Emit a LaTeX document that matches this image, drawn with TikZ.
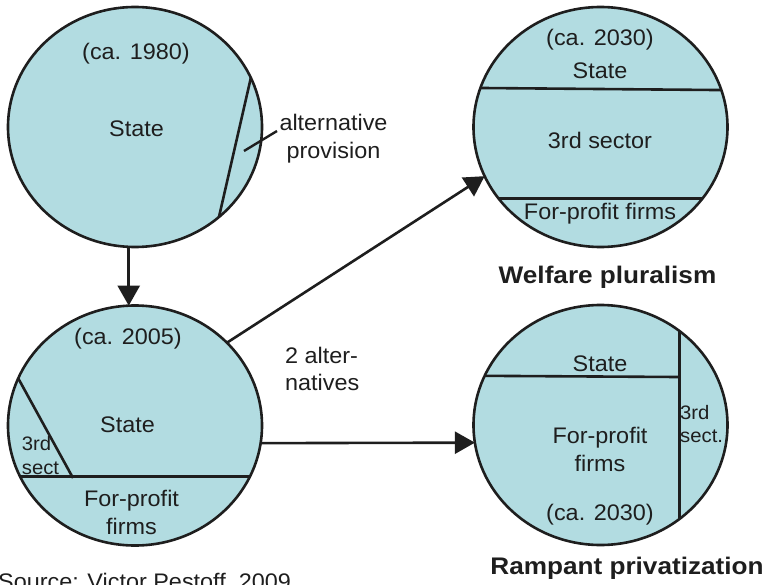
\documentclass[tikz,border=0pt]{standalone}
\usepackage{fontspec}
\setmainfont{Liberation Sans}[FakeStretch=1.04]
\newfontfamily\titlefont{Liberation Sans}[FakeStretch=1.09]
\usetikzlibrary{arrows.meta,shapes.geometric}
\definecolor{fillc}{RGB}{178,220,225}
\definecolor{ink}{RGB}{30,30,30}
\begin{document}
\begin{tikzpicture}[x=1pt,y=-1pt,
  sector/.style={ellipse, draw=ink, fill=fillc, line width=2.6pt, minimum width=254pt, minimum height=240pt, inner sep=0pt, outer sep=0pt},
  divider/.style={draw=ink, line width=2.6pt},
  leader/.style={draw=ink, line width=2.4pt},
  arr/.style={draw=ink, line width=2.6pt, -{Triangle[length=20pt,width=22pt]}},
  lbl/.style={font=\fontsize{22.5}{28}\selectfont, text=ink, inner sep=0pt, anchor=base, align=center},
  lblw/.style={font=\fontsize{22.5}{27.5}\selectfont, text=ink, inner sep=0pt, anchor=base west, align=left},
  small/.style={font=\fontsize{19.5}{23.6}\selectfont, text=ink, inner sep=0pt, anchor=base west, align=left},
  title/.style={font=\titlefont\bfseries\fontsize{24}{28}\selectfont, text=ink, inner sep=0pt, anchor=base}]
\useasboundingbox (0,0) rectangle (767,585);
\clip (0,0) rectangle (767,585);

% circles
\node[sector] (c1) at (135,127) {};
\node[sector] (c2) at (135,425.5) {};
\node[sector] (c3) at (600.5,127) {};
\node[sector] (c4) at (600.5,425) {};

% dividers
\draw[divider] (c1.23.5) -- (c1.-47.6);
\coordinate (c2k) at (73,478);
\draw[divider] (c2.204.9) -- (c2.-24.9);
\draw[divider] (c2.158.5) -- (c2k);
\draw[divider] (c3.162.1) -- (c3.17.9);
\draw[divider] (c3.215.3) -- (c3.-35.3);
\coordinate (c4k) at (678,377);
\draw[divider] (c4.50.5) -- (c4.-50.5);
\draw[divider] (c4.157.6) -- (c4k);

% circle 1 texts
\node[lbl] (t1y) at (136,60) {(ca. 1980)};
\node[lbl] (t1s) at (136.5,136.5) {State};
\node[lbl, font=\fontsize{22.5}{27.5}\selectfont] (alt) at (333.5,158.5) {alternative\\provision};
\coordinate (ld) at (244,151);
\coordinate (le) at (277,131);
\draw[leader] (ld) -- (le);

% circle 2 texts
\node[lbl] (t2y) at (128,344) {(ca. 2005)};
\node[lbl] (t2s) at (127.5,432) {State};
\node[small] (t2t) at (21.7,474.5) {3rd\\sect};
\node[lbl] (t2f) at (131.5,534) {For-profit\\firms};

% circle 3 texts
\node[lbl] (t3y) at (600,46) {(ca. 2030)};
\node[lbl] (t3s) at (600,79) {State};
\node[lbl] (t3t) at (600,148.3) {3rd sector};
\node[lbl] (t3f) at (600,219) {For-profit firms};

% circle 4 texts
\node[lbl] (t4s) at (600,371) {State};
\node[lbl] (t4f) at (600,471.7) {For-profit\\firms};
\node[lbl] (t4y) at (600,520) {(ca. 2030)};
\node[small] (t4t) at (680,442.7) {3rd\\sect.};

% other labels
\node[lblw] (alts) at (285,390.7) {2 alter-\\natives};
\node[title] (wp) at (607.5,283) {Welfare pluralism};
\node[title] (rp) at (627,574) {Rampant privatization};
\node[lblw] (src) at (-2,589) {Source: Victor Pestoff, 2009};

% arrows
\draw[arr] (c1.267) -- (c2.93);
\draw[arr] (c2.42.7) -- (c3.203.1);
\draw[arr] (c2.-8.6) -- (c4.188.6);
\end{tikzpicture}
\end{document}
